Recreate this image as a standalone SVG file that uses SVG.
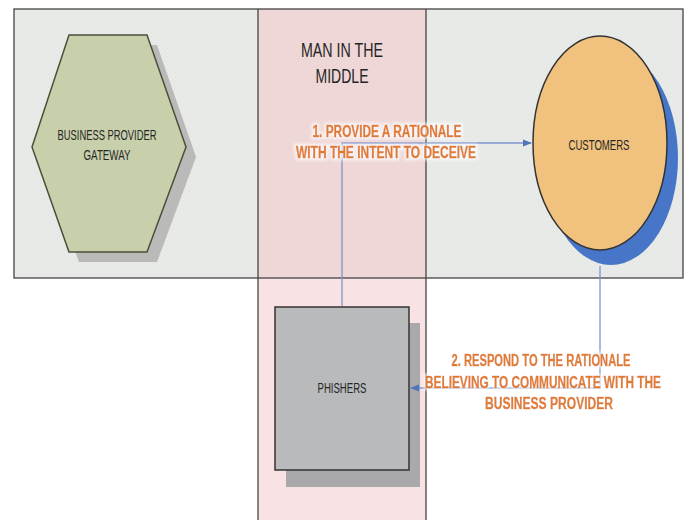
<svg xmlns="http://www.w3.org/2000/svg" width="689" height="520" viewBox="0 0 689 520">
  <defs>
    <pattern id="hatch" width="4" height="4" patternUnits="userSpaceOnUse">
      <rect width="4" height="4" fill="#e9ebe8"/>
      <path d="M0 4 L4 0" stroke="#dfe1de" stroke-width="0.6"/>
    </pattern>
    <pattern id="hatchPink" width="4" height="4" patternUnits="userSpaceOnUse">
      <rect width="4" height="4" fill="#f0d8d8"/>
      <path d="M0 4 L4 0" stroke="#e9d0d0" stroke-width="0.6"/>
    </pattern>
    <marker id="arr" viewBox="0 0 10 10" refX="9" refY="5" markerWidth="7" markerHeight="7" orient="auto">
      <path d="M0 1 L10 5 L0 9 Z" fill="#4f74b8"/>
    </marker>
    <filter id="halo" filterUnits="userSpaceOnUse" x="0" y="0" width="689" height="520">
      <feMorphology in="SourceAlpha" operator="dilate" radius="1.5" result="d"/>
      <feGaussianBlur in="d" stdDeviation="1.5" result="b"/>
      <feFlood flood-color="#ffffff" flood-opacity="0.7"/>
      <feComposite in2="b" operator="in" result="w"/>
      <feMerge><feMergeNode in="w"/><feMergeNode in="SourceGraphic"/></feMerge>
    </filter>
  </defs>
  <style>
    .lbl { font-family: "Liberation Sans", Arial, sans-serif; fill: #262626; text-anchor: middle; }
    .step { font-family: "Liberation Sans", Arial, sans-serif; font-weight: bold; fill: #e47d2c; stroke: #d8722a; stroke-width: 0.4; text-anchor: middle; font-size: 16px; }
    .conn { stroke: #7d94cc; stroke-width: 1.3; fill: none; }
    .border { stroke: #444; stroke-width: 1.3; }
  </style>
  <rect width="689" height="520" fill="#ffffff"/>

  <g id="lanes">
    <rect x="14" y="9" width="669" height="269" fill="url(#hatch)"/>
    <rect x="258" y="278" width="168" height="242" fill="#f8e2e4"/>
    <rect x="258" y="9" width="168" height="269" fill="url(#hatchPink)"/>
    <rect x="14" y="9" width="669" height="269" fill="none" class="border"/>
    <line x1="258" y1="9" x2="258" y2="520" class="border"/>
    <line x1="426" y1="9" x2="426" y2="520" class="border"/>
    <text class="lbl" font-size="20" x="342" y="57" textLength="82" lengthAdjust="spacingAndGlyphs">MAN IN THE</text>
    <text class="lbl" font-size="20" x="342" y="83" textLength="53" lengthAdjust="spacingAndGlyphs">MIDDLE</text>
  </g>

  <g id="gateway">
    <polygon points="79,45 157,45 196,157 157,262 79,262 42,157" fill="#aaaaaa" opacity="0.75"/>
    <polygon points="69,35 147,35 186,147 147,252 69,252 32,147" fill="#c8cfab" stroke="#4b4f3a" stroke-width="1.5"/>
    <text class="lbl" font-size="14" x="107" y="140" textLength="99" lengthAdjust="spacingAndGlyphs">BUSINESS PROVIDER</text>
    <text class="lbl" font-size="14" x="107" y="160" textLength="47" lengthAdjust="spacingAndGlyphs">GATEWAY</text>
  </g>

  <g id="customers">
    <ellipse cx="611" cy="158" rx="67" ry="107" fill="#4776c9"/>
    <ellipse cx="600" cy="143" rx="67" ry="107" fill="#f0c27e" stroke="#333" stroke-width="1.5"/>
    <text class="lbl" font-size="14" x="599" y="150" textLength="61" lengthAdjust="spacingAndGlyphs">CUSTOMERS</text>
  </g>

  <g id="phishers">
    <rect x="286" y="323" width="134" height="164" fill="#a9a9ab"/>
    <rect x="275" y="307" width="134" height="163" fill="#b9babc" stroke="#333" stroke-width="1.5"/>
    <text class="lbl" font-size="14" x="342" y="393" textLength="49" lengthAdjust="spacingAndGlyphs">PHISHERS</text>
  </g>

  <g id="connectors">
    <path class="conn" d="M342 306 L342 143 L531 143" marker-end="url(#arr)"/>
    <path class="conn" d="M600 266 L600 388 L411 388" marker-end="url(#arr)"/>
  </g>

  <g id="labels" filter="url(#halo)">
    <text class="step" x="387" y="137" textLength="149" lengthAdjust="spacingAndGlyphs">1. PROVIDE A RATIONALE</text>
    <text class="step" x="386" y="158" textLength="180" lengthAdjust="spacingAndGlyphs">WITH THE INTENT TO DECEIVE</text>
    <text class="step" x="541" y="366" textLength="179" lengthAdjust="spacingAndGlyphs">2. RESPOND TO THE RATIONALE</text>
    <text class="step" x="543" y="388" textLength="236" lengthAdjust="spacingAndGlyphs">BELIEVING TO COMMUNICATE WITH THE</text>
    <text class="step" x="549" y="409" textLength="128" lengthAdjust="spacingAndGlyphs">BUSINESS PROVIDER</text>
  </g>
</svg>
